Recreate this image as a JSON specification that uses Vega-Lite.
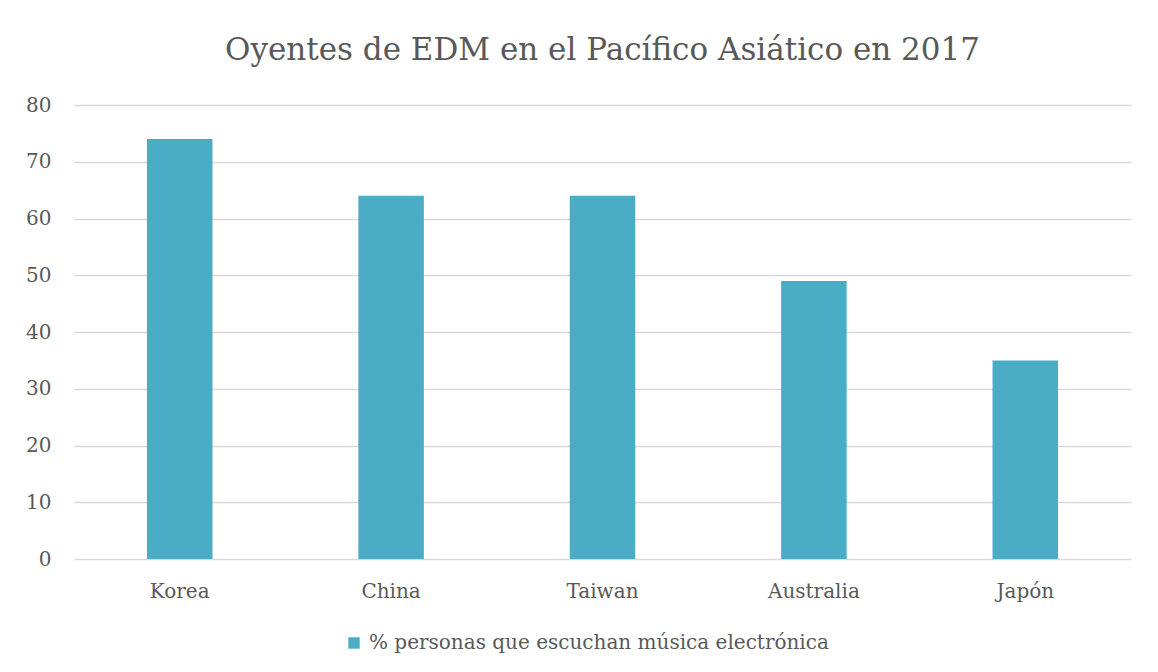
{
  "$schema": "https://vega.github.io/schema/vega-lite/v6.json",
  "autosize": {"type": "none"},
  "width": 1057,
  "height": 454,
  "padding": {"left": 74, "top": 105, "right": 27, "bottom": 113},
  "background": "white",
  "title": {
    "text": "Oyentes de EDM en el Pacífico Asiático en 2017",
    "font": "DejaVu Serif",
    "fontSize": 31,
    "fontWeight": "normal",
    "color": "#595959",
    "anchor": "middle",
    "offset": 28
  },
  "data": {
    "values": [
      {"pais": "Korea", "valor": 74, "serie": "% personas que escuchan música electrónica"},
      {"pais": "China", "valor": 64, "serie": "% personas que escuchan música electrónica"},
      {"pais": "Taiwan", "valor": 64, "serie": "% personas que escuchan música electrónica"},
      {"pais": "Australia", "valor": 49, "serie": "% personas que escuchan música electrónica"},
      {"pais": "Japón", "valor": 35, "serie": "% personas que escuchan música electrónica"}
    ]
  },
  "mark": {"type": "bar"},
  "encoding": {
    "x": {
      "field": "pais", "type": "nominal", "sort": null,
      "scale": {"paddingInner": 0.69, "paddingOuter": 0.345},
      "axis": {"title": null, "labelAngle": 0, "ticks": false, "domain": false, "labelPadding": 22,
               "labelFont": "DejaVu Serif", "labelFontSize": 20, "labelColor": "#595959"}
    },
    "y": {
      "field": "valor", "type": "quantitative",
      "scale": {"domain": [0, 80]},
      "axis": {"title": null, "values": [0,10,20,30,40,50,60,70,80], "ticks": false, "domain": false,
               "labelPadding": 23, "labelFont": "DejaVu Serif", "labelFontSize": 20, "labelColor": "#595959",
               "gridColor": "#D9D9D9", "gridWidth": 1.5}
    },
    "color": {
      "field": "serie", "type": "nominal",
      "scale": {"range": ["#4BACC6"]},
      "legend": {"title": null, "orient": "none", "legendX": 270, "legendY": 528, "symbolType": "square", "symbolSize": 130,
                 "symbolStrokeWidth": 0, "labelFont": "DejaVu Serif", "labelFontSize": 20, "labelOffset": 5,
                 "labelColor": "#595959", "labelLimit": 800}
    }
  },
  "config": {"view": {"stroke": null}}
}
